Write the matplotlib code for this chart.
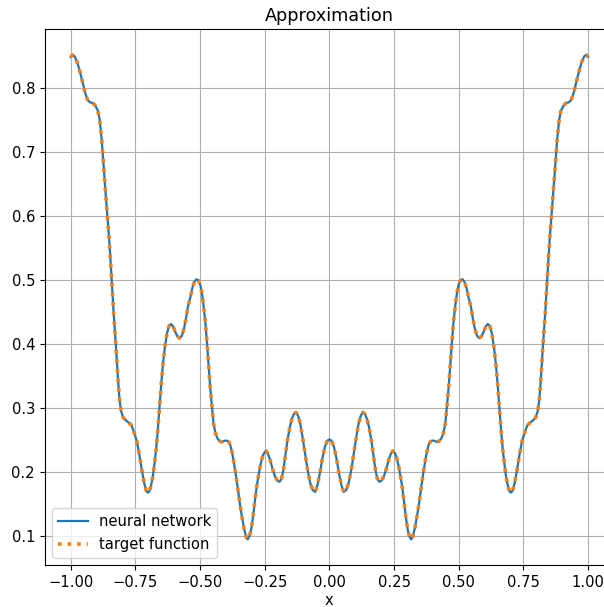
import numpy as np
import matplotlib
matplotlib.use('Agg')
import matplotlib.pyplot as plt

plt.rcParams['font.size'] = 10.6

# left half of the curve (x, y)
x_left = [-1.000, -0.993, -0.985, -0.975, -0.965, -0.955, -0.945, -0.935, -0.925, -0.915,
          -0.905, -0.895, -0.888, -0.880, -0.875, -0.870, -0.865, -0.859, -0.852, -0.846,
          -0.840, -0.834, -0.825, -0.817, -0.811, -0.805, -0.797, -0.785, -0.775, -0.765,
          -0.755, -0.745, -0.735, -0.725, -0.716, -0.708, -0.702, -0.696, -0.690, -0.683,
          -0.677, -0.670, -0.664, -0.657, -0.650, -0.643, -0.636, -0.628, -0.620, -0.612,
          -0.604, -0.596, -0.588, -0.579, -0.570, -0.562, -0.555, -0.547, -0.538, -0.530,
          -0.522, -0.514, -0.506, -0.499, -0.493, -0.488, -0.480, -0.473, -0.467, -0.461,
          -0.454, -0.448, -0.440, -0.432, -0.423, -0.415, -0.405, -0.396, -0.389, -0.383,
          -0.377, -0.371, -0.363, -0.355, -0.347, -0.338, -0.330, -0.322, -0.316, -0.310,
          -0.303, -0.296, -0.289, -0.282, -0.274, -0.266, -0.258, -0.252, -0.245, -0.238,
          -0.229, -0.220, -0.210, -0.200, -0.192, -0.185, -0.178, -0.170, -0.162, -0.153,
          -0.145, -0.137, -0.129, -0.121, -0.113, -0.104, -0.094, -0.085, -0.075, -0.065,
          -0.055, -0.046, -0.036, -0.027, -0.017, -0.008, 0.000]
y_left = [0.848, 0.851, 0.849, 0.840, 0.826, 0.810, 0.793, 0.781, 0.777, 0.776,
          0.772, 0.764, 0.750, 0.718, 0.690, 0.660, 0.635, 0.604, 0.567, 0.530,
          0.490, 0.448, 0.396, 0.344, 0.312, 0.295, 0.285, 0.280, 0.277, 0.273,
          0.262, 0.249, 0.228, 0.203, 0.183, 0.171, 0.168, 0.170, 0.178, 0.192,
          0.210, 0.235, 0.262, 0.300, 0.338, 0.370, 0.395, 0.416, 0.428, 0.431,
          0.427, 0.419, 0.412, 0.409, 0.413, 0.424, 0.438, 0.458, 0.472, 0.487,
          0.497, 0.501, 0.499, 0.492, 0.480, 0.465, 0.436, 0.401, 0.367, 0.333,
          0.302, 0.276, 0.260, 0.252, 0.248, 0.247, 0.249, 0.249, 0.247, 0.242,
          0.232, 0.219, 0.199, 0.177, 0.153, 0.130, 0.112, 0.099, 0.095, 0.099,
          0.109, 0.128, 0.151, 0.175, 0.195, 0.212, 0.225, 0.230, 0.233, 0.229,
          0.219, 0.205, 0.193, 0.186, 0.185, 0.190, 0.203, 0.226, 0.250, 0.270,
          0.283, 0.291, 0.293, 0.288, 0.276, 0.255, 0.229, 0.205, 0.184, 0.172,
          0.169, 0.180, 0.200, 0.222, 0.240, 0.249, 0.251]

# the curve is symmetric about x = 0
x_vals = np.array(x_left + [-v for v in x_left[-2::-1]])
y_vals = np.array(y_left + y_left[-2::-1])

fig = plt.figure(figsize=(6.04, 6.07), dpi=100)
ax = fig.add_axes([0.0742, 0.0692, 0.9424, 0.8825])
ax.plot(x_vals, y_vals, color='#1f77b4', lw=1.6, label='neural network')
ax.plot(x_vals, y_vals, color='#ff7f0e', lw=2.6, ls=':', label='target function')
ax.set_xlim(-1.1, 1.1)
ax.set_ylim(0.055, 0.891)
ax.set_xticks([-1.0, -0.75, -0.5, -0.25, 0.0, 0.25, 0.5, 0.75, 1.0])
ax.set_title('Approximation')
ax.set_xlabel('x', labelpad=2.5)
ax.grid(True)
ax.legend(loc='lower left')
fig.savefig('out.png', dpi=100)
